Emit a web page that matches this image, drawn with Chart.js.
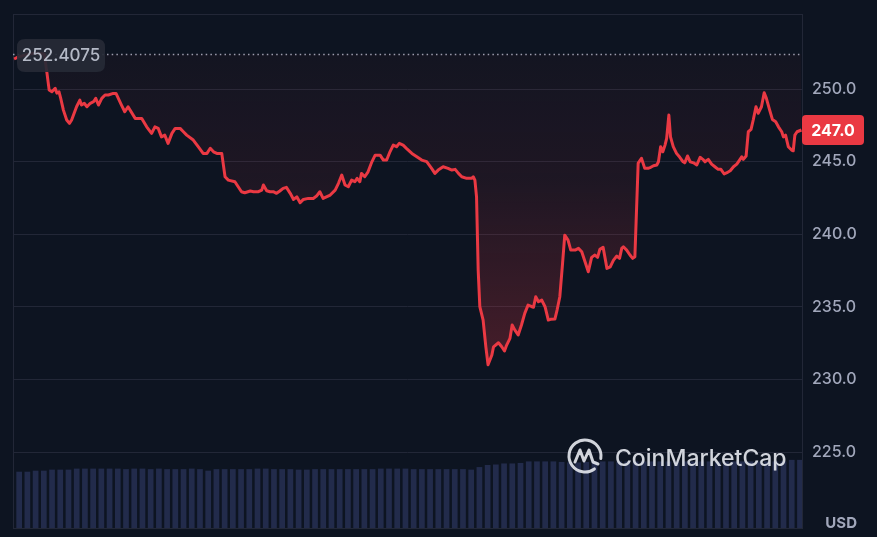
<!DOCTYPE html>
<html>
<head>
<meta charset="utf-8">
<script src="https://cdn.jsdelivr.net/npm/chart.js"></script>
<style>
  html, body { margin: 0; padding: 0; background: #0d1421; }
  #wrap { width: 877px; height: 537px; position: relative; }
</style>
</head>
<body>
<div id="wrap"><canvas id="price-chart"></canvas></div>
<script>
// minutes since start of the 24h window
const times = [2, 9, 22, 40, 57, 62, 66, 71, 77, 80, 84, 87, 92, 98, 103, 107, 116, 122, 125, 130,
  135, 141, 147, 151, 156, 162, 168, 174, 183, 188, 198, 204, 210, 223, 235, 244, 253, 259, 265, 271,
  277, 283, 290, 296, 305, 311, 317, 329, 338, 347, 354, 360, 366, 372, 381, 387, 393, 405, 411, 417,
  423, 433, 439, 448, 454, 457, 463, 469, 475, 481, 487, 493, 499, 506, 512, 518, 524, 530, 539, 548,
  554, 560, 566, 579, 588, 594, 600, 606, 612, 618, 624, 628, 633, 636, 642, 648, 655, 661, 670, 676,
  682, 688, 694, 700, 705, 712, 718, 728, 737, 746, 755, 764, 770, 776, 785, 794, 801, 807, 813, 819,
  828, 837, 840, 843, 846, 849, 852, 858, 863, 867, 874, 877, 886, 892, 897, 901, 907, 911, 916, 922,
  928, 934, 940, 947, 950, 954, 959, 965, 971, 977, 981, 989, 993, 998, 1003, 1007, 1013, 1018, 1026, 1032,
  1038, 1044, 1050, 1056, 1062, 1067, 1071, 1077, 1084, 1090, 1096, 1102, 1107, 1111, 1114, 1120, 1126, 1131, 1135, 1141,
  1147, 1153, 1159, 1164, 1169, 1175, 1178, 1182, 1186, 1190, 1193, 1197, 1200, 1205, 1211, 1217, 1223, 1226, 1231, 1236,
  1242, 1248, 1254, 1259, 1263, 1269, 1275, 1281, 1287, 1292, 1298, 1303, 1309, 1315, 1321, 1326, 1330, 1333, 1338, 1342,
  1347, 1351, 1356, 1360, 1366, 1371, 1375, 1381, 1386, 1392, 1397, 1403, 1406, 1410, 1415, 1421, 1424, 1427, 1431, 1439];

const prices = [252.07, 252.20, 252.34, 252.48, 252.41, 251.10, 249.93, 249.81, 250.05, 249.72,
  249.81, 249.38, 248.55, 247.87, 247.64, 247.87, 248.78, 249.24, 248.90, 249.02,
  248.78, 249.02, 249.13, 249.36, 248.90, 249.36, 249.59, 249.59, 249.70, 249.70,
  248.90, 248.44, 248.78, 247.98, 247.98, 247.40, 246.95, 247.40, 247.29, 246.71,
  246.83, 246.26, 246.95, 247.29, 247.29, 247.06, 246.83, 246.49, 246.03, 245.57,
  245.57, 245.92, 245.68, 245.57, 245.57, 243.96, 243.73, 243.62, 243.27, 242.93,
  242.86, 242.98, 242.93, 242.93, 243.04, 243.39, 243.00, 242.93, 242.93, 242.82,
  242.98, 243.16, 243.23, 242.82, 242.40, 242.58, 242.17, 242.40, 242.47, 242.47,
  242.63, 242.93, 242.47, 242.70, 243.04, 243.51, 244.08, 243.39, 243.27, 243.73,
  243.62, 243.85, 243.62, 244.19, 243.96, 244.30, 244.99, 245.45, 245.45, 245.11,
  245.11, 245.68, 246.14, 246.03, 246.26, 246.14, 245.92, 245.57, 245.34, 245.11,
  245.00, 244.54, 244.19, 244.42, 244.65, 244.54, 244.42, 244.47, 244.19, 243.96,
  243.85, 243.85, 243.96, 243.73, 242.58, 237.53, 235.01, 234.09, 232.25, 231.01,
  231.69, 232.25, 232.53, 232.25, 231.96, 232.37, 232.83, 233.75, 233.40, 233.06,
  233.75, 234.55, 235.12, 235.01, 234.97, 235.70, 235.35, 235.47, 235.01, 234.09,
  234.14, 234.16, 234.78, 235.70, 238.00, 239.94, 239.60, 238.91, 238.91, 239.03,
  238.79, 238.11, 237.42, 238.41, 238.57, 238.41, 238.96, 239.10, 237.65, 237.76,
  238.22, 238.50, 238.34, 239.03, 239.14, 238.91, 238.57, 238.34, 238.45, 244.90,
  245.23, 244.54, 244.54, 244.61, 244.72, 244.77, 244.99, 246.03, 245.68, 246.14,
  246.60, 248.21, 246.71, 246.03, 245.57, 245.30, 244.99, 244.92, 245.39, 244.99,
  244.92, 244.77, 245.30, 245.16, 244.99, 245.16, 244.83, 244.65, 244.47, 244.47,
  244.15, 244.24, 244.37, 244.65, 244.83, 245.11, 245.34, 245.16, 245.39, 247.06,
  247.22, 247.87, 248.78, 248.33, 248.78, 249.75, 249.36, 248.55, 247.91, 247.75,
  247.40, 247.06, 246.71, 246.83, 246.03, 245.80, 245.75, 246.83, 247.06, 247.18];

// 15-minute volume buckets (relative units)
const volumes = [108, 108, 110, 110, 112, 112, 112, 114, 114, 114, 114, 114, 114,
  113, 114, 114, 113, 114, 113, 113, 113, 114, 113, 110,
  113, 113, 113, 113, 113, 114, 114, 113, 113, 113,
  112, 112, 113, 113, 113, 113, 113, 113, 113, 113, 114, 114, 114, 114, 113, 113, 113, 113, 113, 113, 113, 112,
  117, 121, 122, 124, 124, 125,
  128, 128, 128, 128, 127, 126, 126, 127, 128,
  128, 128, 128, 128, 128, 128, 128, 128, 128, 128, 128, 128, 128, 128, 128, 128, 128, 128, 128, 128, 128, 128, 128,
  131, 131];

const yTicks = [225, 230, 235, 240, 245, 250];
const openPrice = 252.4075;
const lastPriceLabel = '247.0';

const red = '#ea3943';
const gridColor = '#222737';
const labelColor = '#a1a7bb';

const pricePoints = times.map((t, i) => ({ x: t, y: prices[i] }));

function areaGradient(context) {
  const chart = context.chart;
  const area = chart.chartArea;
  if (!area) return 'rgba(234,57,67,0.1)';
  const y = chart.scales.y;
  const top = y.getPixelForValue(openPrice);
  const bottom = y.getPixelForValue(231);
  const g = chart.ctx.createLinearGradient(0, top, 0, bottom);
  g.addColorStop(0, 'rgba(234,57,67,0.03)');
  g.addColorStop(0.4, 'rgba(234,57,67,0.08)');
  g.addColorStop(1, 'rgba(234,57,67,0.26)');
  return g;
}

function roundRect(c, x, y, w, h, r) {
  c.beginPath();
  c.moveTo(x + r, y);
  c.lineTo(x + w - r, y);
  c.quadraticCurveTo(x + w, y, x + w, y + r);
  c.lineTo(x + w, y + h - r);
  c.quadraticCurveTo(x + w, y + h, x + w - r, y + h);
  c.lineTo(x + r, y + h);
  c.quadraticCurveTo(x, y + h, x, y + h - r);
  c.lineTo(x, y + r);
  c.quadraticCurveTo(x, y, x + r, y);
  c.closePath();
}

const decorations = {
  id: 'decorations',
  beforeDatasetsDraw(chart) {
    const c = chart.ctx;
    const a = chart.chartArea;
    // frame
    c.save();
    c.strokeStyle = gridColor;
    c.lineWidth = 1;
    c.strokeRect(a.left + 0.5, a.top + 0.5, a.right - a.left, a.bottom - a.top);

    // dotted open-price line
    const yp = Math.round(chart.scales.y.getPixelForValue(openPrice)) + 0.5;
    c.setLineDash([1.5, 3.2]);
    c.lineWidth = 1.5;
    c.strokeStyle = '#9aa0b1';
    c.beginPath();
    c.moveTo(a.left, yp);
    c.lineTo(a.right, yp);
    c.stroke();
    c.restore();
  },
  afterDatasetsDraw(chart) {
    const c = chart.ctx;
    const a = chart.chartArea;
    const ys = chart.scales.y;
    c.save();

    // watermark
    const cx = 585, cy = 456;
    c.strokeStyle = 'rgba(226,229,235,0.92)';
    c.fillStyle = 'rgba(226,229,235,0.92)';
    c.lineWidth = 3;
    c.lineCap = 'round';
    c.lineJoin = 'round';
    c.beginPath();
    c.arc(cx, cy, 16, 0.3 * Math.PI, 2.05 * Math.PI);
    c.stroke();
    c.beginPath();
    c.moveTo(cx - 10, cy + 6);
    c.lineTo(cx - 5, cy - 6);
    c.lineTo(cx - 1, cy + 5);
    c.lineTo(cx + 4, cy - 6);
    c.lineTo(cx + 8, cy + 6);
    c.lineTo(cx + 13, cy + 8);
    c.stroke();
    c.font = '500 23px Inter, "Noto Sans", sans-serif';
    c.textBaseline = 'alphabetic';
    c.textAlign = 'left';
    c.fillText('CoinMarketCap', 615, 466);

    // open price label
    roundRect(c, 17, 39, 88, 33, 8);
    c.fillStyle = 'rgba(38,42,54,0.92)';
    c.fill();
    c.fillStyle = '#b4b9c6';
    c.font = '500 17px Inter, "Noto Sans", sans-serif';
    c.textAlign = 'center';
    c.textBaseline = 'middle';
    c.fillText(openPrice.toString(), 61, 56);

    // last price badge
    const yl = ys.getPixelForValue(prices[prices.length - 1]);
    roundRect(c, a.right, yl - 15, 62, 30, 4);
    c.fillStyle = red;
    c.fill();
    c.fillStyle = '#ffffff';
    c.font = '700 16px Inter, "Noto Sans", sans-serif';
    c.fillText(lastPriceLabel, a.right + 31, yl + 1);

    // currency
    c.fillStyle = labelColor;
    c.font = '700 15px Inter, "Noto Sans", sans-serif';
    c.textAlign = 'right';
    c.textBaseline = 'alphabetic';
    c.fillText('USD', 857, 528);
    c.restore();
  }
};

const ctx = document.getElementById('price-chart').getContext('2d');
const priceChart = new Chart(ctx, {
  data: {
    labels: volumes.map((v, i) => i),
    datasets: [
      {
        type: 'line',
        label: 'Price',
        data: pricePoints,
        xAxisID: 'x',
        yAxisID: 'y',
        borderColor: red,
        borderWidth: 3,
        borderJoinStyle: 'round',
        pointRadius: 0,
        tension: 0,
        fill: { value: openPrice },
        backgroundColor: areaGradient,
        order: 1
      },
      {
        type: 'bar',
        label: 'Volume',
        data: volumes,
        xAxisID: 'xv',
        yAxisID: 'yv',
        backgroundColor: '#222b4b',
        borderWidth: 0,
        inflateAmount: 0.8,
        barPercentage: 1,
        categoryPercentage: 1,
        order: 2
      }
    ]
  },
  plugins: [decorations],
  options: {
    responsive: true,
    maintainAspectRatio: false,
    animation: false,
    layout: { padding: { left: 13, top: 14, bottom: 9, right: 0 } },
    plugins: {
      legend: { display: false },
      tooltip: { enabled: false }
    },
    scales: {
      x: { type: 'linear', min: 0, max: 1440, display: false },
      xv: { type: 'category', display: false, offset: true },
      yv: { type: 'linear', min: 0, max: 1000, display: false },
      y: {
        type: 'linear',
        position: 'right',
        min: 219.77,
        max: 255.17,
        afterBuildTicks: s => { s.ticks = yTicks.map(v => ({ value: v })); },
        afterFit: s => {
          s.width = 75;
          s.paddingTop = 0;
          s.paddingBottom = 0;
        },
        grid: { color: gridColor, drawTicks: false },
        border: { display: true, color: gridColor },
        ticks: {
          padding: 10,
          color: labelColor,
          font: { family: 'Inter, "Noto Sans", sans-serif', size: 16, weight: '500' },
          callback: v => v.toFixed(1)
        }
      }
    }
  }
});
</script>
</body>
</html>
